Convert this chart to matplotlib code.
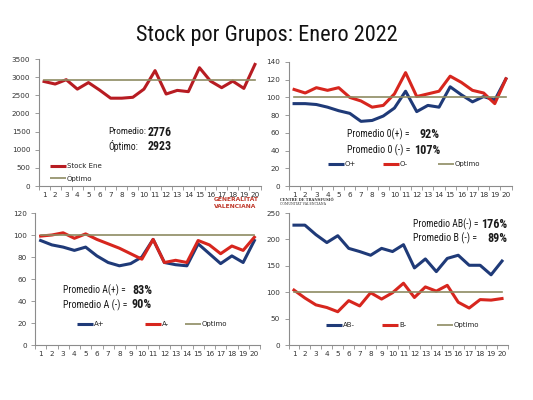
import numpy as np
import matplotlib
matplotlib.use('Agg')
import matplotlib.pyplot as plt
from matplotlib import font_manager
from matplotlib.font_manager import FontProperties

dias = list(range(1, 21))

stock_ene = [2880, 2810, 2930, 2670, 2850, 2645, 2420, 2420, 2445, 2670,
             3180, 2535, 2635, 2600, 3260, 2890, 2710, 2890, 2690, 3350]
optimo_total = 2923

o_pos = [93, 93, 92, 89, 85, 82, 73, 74, 79, 88, 107, 84, 91, 89, 112, 103, 95, 101, 97, 121]
o_neg = [109, 105, 111, 108, 111, 100, 96, 89, 91, 104, 128, 101, 104, 107, 124, 117, 108, 105, 93, 121]

a_pos = [95, 91, 89, 86, 89, 81, 75, 72, 74, 80, 96, 75, 73, 72, 92, 83, 74, 81, 75, 95]
a_neg = [99, 100, 102, 97, 101, 96, 92, 88, 83, 78, 96, 75, 77, 75, 95, 91, 83, 90, 86, 98]

ab_neg = [227, 227, 209, 194, 207, 183, 177, 170, 183, 177, 190, 146, 163, 139, 164, 170, 151, 151, 133, 159]
b_neg = [104, 89, 76, 71, 63, 84, 74, 99, 87, 99, 117, 90, 110, 102, 113, 81, 70, 86, 85, 88]

optimo_pct = 100

W, H = 533, 400
ROJO_OSC = '#B71C22'
ROJO = '#D7261E'
AZUL = '#1F3A78'
OLIVA = '#8E8B62'
GRIS = '#8C8C8C'


# buscar una fuente estrecha (tipo Arial Narrow) si la hay
def fuente_estrecha(bold):
    peso_ok = (lambda w: w in ('bold', 700, 'semibold', 600)) if bold else (lambda w: w in ('normal', 400, 'regular', 'book'))
    cands = []
    for f in font_manager.fontManager.ttflist:
        if f.style != 'normal' or not peso_ok(f.weight):
            continue
        estrecha = 'Narrow' in f.name or 'Condensed' in f.name or f.stretch in ('condensed', 'semi-condensed')
        if not estrecha or 'Mono' in f.name or 'Serif' in f.name:
            continue
        orden = 0 if 'Liberation' in f.name else 1 if 'Noto Sans' in f.name else 2 if 'Roboto' in f.name else 3
        cands.append((orden, f.fname))
    if cands:
        return FontProperties(fname=sorted(cands)[0][1])
    return FontProperties(family='Liberation Sans', weight='bold' if bold else 'normal')


FP = fuente_estrecha(False)
FPB = fuente_estrecha(True)

fig = plt.figure(figsize=(W / 100, H / 100), dpi=100)
fig.patch.set_facecolor('white')
rend = fig.canvas.get_renderer()


def eje(x0, x1, ytop, ybot):
    ax = fig.add_axes([x0 / W, 1 - ybot / H, (x1 - x0) / W, (ybot - ytop) / H])
    for s in ['top', 'right']:
        ax.spines[s].set_visible(False)
    for s in ['left', 'bottom']:
        ax.spines[s].set_color(GRIS)
        ax.spines[s].set_linewidth(0.8)
    ax.set_xlim(0.5, 20.5)
    ax.set_xticks(dias)
    ax.set_xticks(np.arange(0.5, 21, 1), minor=True)
    ax.tick_params(axis='x', which='major', length=0, labelsize=5.2, colors='#333333', pad=4)
    ax.tick_params(axis='x', which='minor', length=3, color=GRIS, width=0.6)
    ax.tick_params(axis='y', length=3, color=GRIS, width=0.6, labelsize=5.2, labelcolor='#333333', pad=3)
    ax.set_facecolor('none')
    return ax


def txt(x, y, s, ancho, size=9, bold=False, ha='left', color='#1a1a1a'):
    # ajusta el tamaño para que el texto ocupe 'ancho' px como en la referencia
    fp = (FPB if bold else FP).copy()
    fp.set_size(size)
    t = fig.text(x / W, 1 - y / H, s, fontproperties=fp, ha=ha, va='center', color=color)
    w = t.get_window_extent(rend).width
    if w > ancho:
        fp.set_size(size * ancho / w)
        t.set_fontproperties(fp)
    return t


def leyenda(y, items):
    for (x0, color, lw, etiqueta) in items:
        fig.add_artist(plt.Line2D([x0 / W, (x0 + 16) / W], [1 - y / H, 1 - y / H],
                                  color=color, lw=lw, solid_capstyle='butt'))
        fig.text((x0 + 17) / W, 1 - y / H, etiqueta, fontsize=5, va='center', color='#222222')


# titulo
txt(W / 2, 35, 'Stock por Grupos: Enero 2022', 262, size=18.5, ha='center', color='#111111')

# panel 1: stock total
ax1 = eje(38.5, 260.5, 59, 186)
ax1.plot(dias, stock_ene, color=ROJO_OSC, lw=2.2)
ax1.plot(dias, [optimo_total] * len(dias), color=OLIVA, lw=1.2)
ax1.set_ylim(0, 3500)
ax1.set_yticks(range(0, 3501, 500))
txt(108, 132, 'Promedio:', 38)
txt(172, 132, '2776', 24, bold=True, ha='right')
txt(108, 146, 'Óptimo:', 30)
txt(172, 146, '2923', 24, bold=True, ha='right')
leyenda(166, [(50, ROJO_OSC, 2.2, 'Stock Ene')])
leyenda(178, [(50, OLIVA, 1.2, 'Óptimo')])

# panel 2: grupo 0
ax2 = eje(288.5, 511.5, 62, 186)
ax2.plot(dias, o_pos, color=AZUL, lw=2.2)
ax2.plot(dias, o_neg, color=ROJO, lw=2.2)
ax2.plot(dias, [optimo_pct] * len(dias), color=OLIVA, lw=1.2)
ax2.set_ylim(0, 140)
ax2.set_yticks(range(0, 141, 20))
txt(347, 134, 'Promedio 0(+) =', 62)
txt(439, 134, '92%', 20, bold=True, ha='right')
txt(347, 150, 'Promedio 0 (-) =', 64)
txt(440, 150, '107%', 26, bold=True, ha='right')
leyenda(164, [(328, AZUL, 2.2, 'O+'), (383, ROJO, 2.2, 'O-'), (438, OLIVA, 1.2, 'Optimo')])

# panel 3: grupo A
ax3 = eje(35, 260, 213, 345)
ax3.plot(dias, a_pos, color=AZUL, lw=2.2)
ax3.plot(dias, a_neg, color=ROJO, lw=2.2)
ax3.plot(dias, [optimo_pct] * len(dias), color=OLIVA, lw=1.2)
ax3.set_ylim(0, 120)
ax3.set_yticks(range(0, 121, 20))
txt(63, 290, 'Promedio A(+) =', 62)
txt(152, 290, '83%', 20, bold=True, ha='right')
txt(63, 305, 'Promedio A (-) =', 64)
txt(152, 305, '90%', 20, bold=True, ha='right')
leyenda(324, [(77, AZUL, 2.2, 'A+'), (145, ROJO, 2.2, 'A-'), (185, OLIVA, 1.2, 'Optimo')])

# panel 4: grupos AB- y B-
ax4 = eje(288.5, 507.5, 213, 345)
ax4.plot(dias, ab_neg, color=AZUL, lw=2.2)
ax4.plot(dias, b_neg, color=ROJO, lw=2.2)
ax4.plot(dias, [optimo_pct] * len(dias), color=OLIVA, lw=1.2)
ax4.set_ylim(0, 250)
ax4.set_yticks(range(0, 251, 50))
txt(413, 224, 'Promedio AB(-) =', 65)
txt(507, 224, '176%', 26, bold=True, ha='right')
txt(413, 238, 'Promedio B (-) =', 64)
txt(507, 238, '89%', 20, bold=True, ha='right')
leyenda(325, [(326, AZUL, 2.2, 'AB-'), (382, ROJO, 2.2, 'B-'), (437, OLIVA, 1.2, 'Optimo')])

# logotipos (texto)
fig.text(214 / W, 1 - 199 / H, 'GENERALITAT', fontsize=4.3, fontweight='bold', color='#C0392B', va='center')
fig.text(214 / W, 1 - 207 / H, 'VALENCIANA', fontsize=4.3, fontweight='bold', color='#C0392B', va='center')
fig.text(280 / W, 1 - 200 / H, 'CENTRE DE TRANSFUSIÓ', fontsize=2.6, fontweight='bold', color='#333333',
         va='center', family='DejaVu Serif')
fig.text(280 / W, 1 - 204 / H, 'COMUNITAT VALENCIANA', fontsize=2.3, color='#333333',
         va='center', family='DejaVu Serif')

fig.savefig('out.png', dpi=100)
